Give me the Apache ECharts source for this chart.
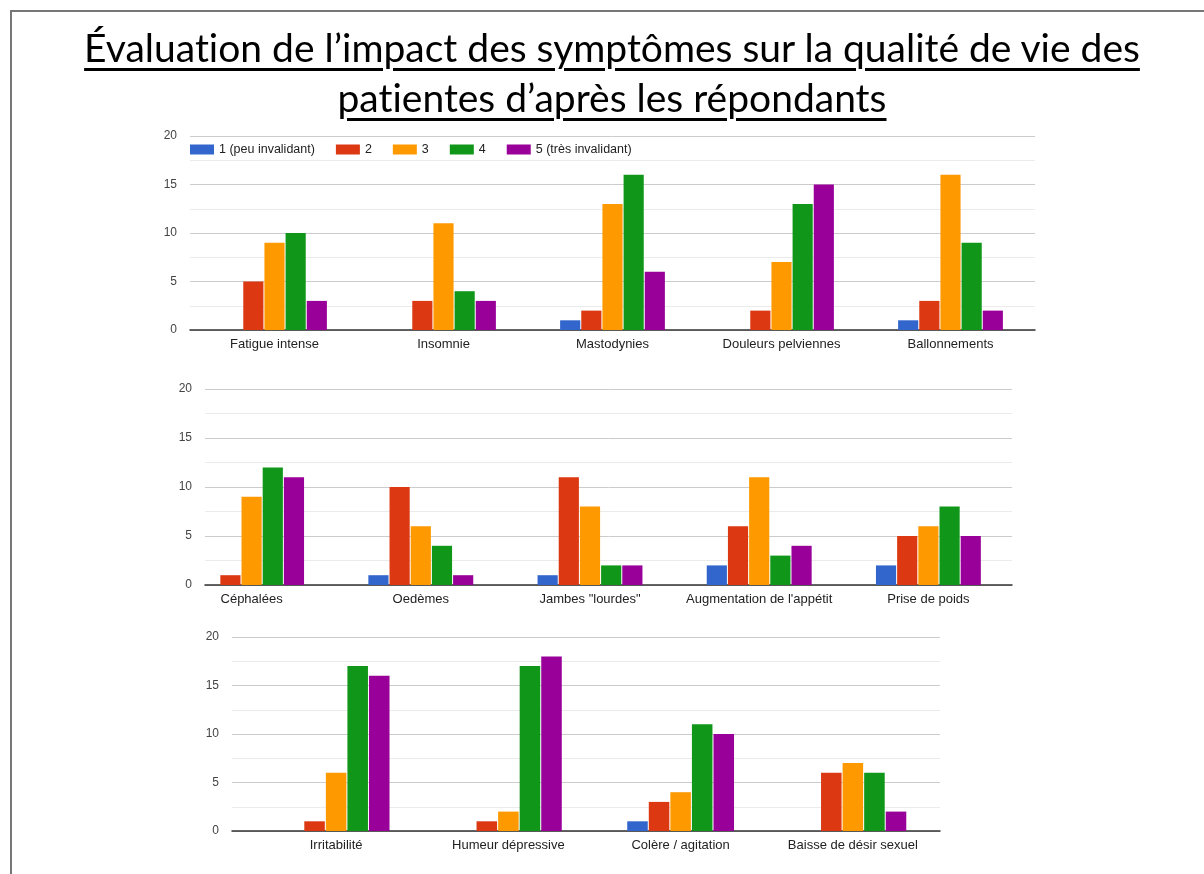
<!DOCTYPE html>
<html>
<head>
<meta charset="utf-8">
<script src="https://cdn.jsdelivr.net/npm/echarts@6/dist/echarts.min.js"></script>
<style>
  html, body { margin: 0; padding: 0; background: #fff; }
  #frame { position: absolute; left: 10px; top: 10px; width: 1204px; height: 874px;
           border-left: 2px solid #777; border-top: 2px solid #777; }
  #title { position: absolute; left: 0; top: 22px; width: 1224px; text-align: center;
           font-family: Lato, "Open Sans", sans-serif; font-size: 39px; line-height: 50px;
           font-variant-ligatures: none;
           color: #000; text-decoration: underline; text-decoration-thickness: 3px;
           text-underline-offset: 6px; }
  #main { position: absolute; left: 0; top: 0; width: 1204px; height: 874px; }
</style>
</head>
<body>
<div id="main"></div>
<div id="frame"></div>
<div id="title">Évaluation de l’impact des symptômes sur la qualité de vie des<br>patientes d’après les répondants</div>
<script>
// niveaux d'invalidité (légende)
const levels = ['1 (peu invalidant)', '2', '3', '4', '5 (très invalidant)']
const colors = ['#3366cc', '#dc3912', '#ff9900', '#109618', '#990099']

// graphique 1
const cats1 = ['Fatigue intense', 'Insomnie', 'Mastodynies', 'Douleurs pelviennes', 'Ballonnements']
const lvl1_1 = [0, 0, 1, 0, 1]
const lvl2_1 = [5, 3, 2, 2, 3]
const lvl3_1 = [9, 11, 13, 7, 16]
const lvl4_1 = [10, 4, 16, 13, 9]
const lvl5_1 = [3, 3, 6, 15, 2]

// graphique 2
const cats2 = ['Céphalées', 'Oedèmes', 'Jambes "lourdes"', "Augmentation de l'appétit", 'Prise de poids']
const lvl1_2 = [0, 1, 1, 2, 2]
const lvl2_2 = [1, 10, 11, 6, 5]
const lvl3_2 = [9, 6, 8, 11, 6]
const lvl4_2 = [12, 4, 2, 3, 8]
const lvl5_2 = [11, 1, 2, 4, 5]

// graphique 3
const cats3 = ['Irritabilité', 'Humeur dépressive', 'Colère / agitation', 'Baisse de désir sexuel']
const lvl1_3 = [0, 0, 1, 0]
const lvl2_3 = [1, 1, 3, 6]
const lvl3_3 = [6, 2, 4, 7]
const lvl4_3 = [17, 17, 11, 6]
const lvl5_3 = [16, 18, 10, 2]

const yTicks = [0, 5, 10, 15, 20]

const font = 'Liberation Sans, Arial, sans-serif'

// bg = zone du quadrillage, fg = zone des catégories (débordent un peu dans les graphiques 2 et 3)
const charts = [
  { cats: cats1, data: [lvl1_1, lvl2_1, lvl3_1, lvl4_1, lvl5_1],
    bg: { left: 190, top: 136, width: 845, height: 194 }, fg: { left: 190, width: 845 }, gap: '38%' },
  { cats: cats2, data: [lvl1_2, lvl2_2, lvl3_2, lvl4_2, lvl5_2],
    bg: { left: 205, top: 389, width: 807, height: 196 }, fg: { left: 167, width: 846 }, gap: '38%' },
  { cats: cats3, data: [lvl1_3, lvl2_3, lvl3_3, lvl4_3, lvl5_3],
    bg: { left: 232, top: 637, width: 708, height: 194 }, fg: { left: 250, width: 689 }, gap: '38%' }
]

const grid = [], xAxis = [], yAxis = [], series = []
charts.forEach((c, i) => {
  const b = grid.length
  grid.push(c.bg)
  grid.push({ left: c.fg.left, width: c.fg.width, top: c.bg.top, height: c.bg.height })
  // quadrillage + ligne de base
  xAxis.push({
    type: 'value', gridIndex: b, min: 0, max: 1,
    axisLine: { show: true, lineStyle: { color: '#333', width: 1.5 } },
    axisTick: { show: false }, axisLabel: { show: false }, splitLine: { show: false }
  })
  yAxis.push({
    type: 'value', gridIndex: b, min: yTicks[0], max: yTicks[yTicks.length - 1], interval: 5,
    axisLine: { show: false }, axisTick: { show: false },
    axisLabel: { color: '#444', fontSize: 12, fontFamily: font, margin: 13 },
    splitLine: { lineStyle: { color: '#cccccc' } },
    minorTick: { show: false, splitNumber: 2 },
    minorSplitLine: { show: true, lineStyle: { color: '#ebebeb' } }
  })
  // barres
  xAxis.push({
    type: 'category', gridIndex: b + 1, data: c.cats,
    axisTick: { show: false }, axisLine: { show: false },
    axisLabel: { color: '#222', fontSize: 13, fontFamily: font, margin: 8, interval: 0 }
  })
  yAxis.push({
    type: 'value', gridIndex: b + 1, min: yTicks[0], max: yTicks[yTicks.length - 1],
    show: false, splitLine: { show: false }
  })
  levels.forEach((name, k) => {
    series.push({
      name, type: 'bar', xAxisIndex: b + 1, yAxisIndex: b + 1,
      data: c.data[k],
      barCategoryGap: c.gap, barGap: '5%',
      itemStyle: { color: colors[k] },
      silent: true, animation: false
    })
  })
})

const chart = echarts.init(document.getElementById('main'))
chart.setOption({
  backgroundColor: '#fff',
  color: colors,
  legend: {
    data: levels, left: 185, top: 138, itemWidth: 24, itemHeight: 10, itemGap: 21,
    icon: 'rect',
    textStyle: { color: '#222', fontSize: 12.5, fontFamily: font }
  },
  grid, xAxis, yAxis, series
})
</script>
</body>
</html>
